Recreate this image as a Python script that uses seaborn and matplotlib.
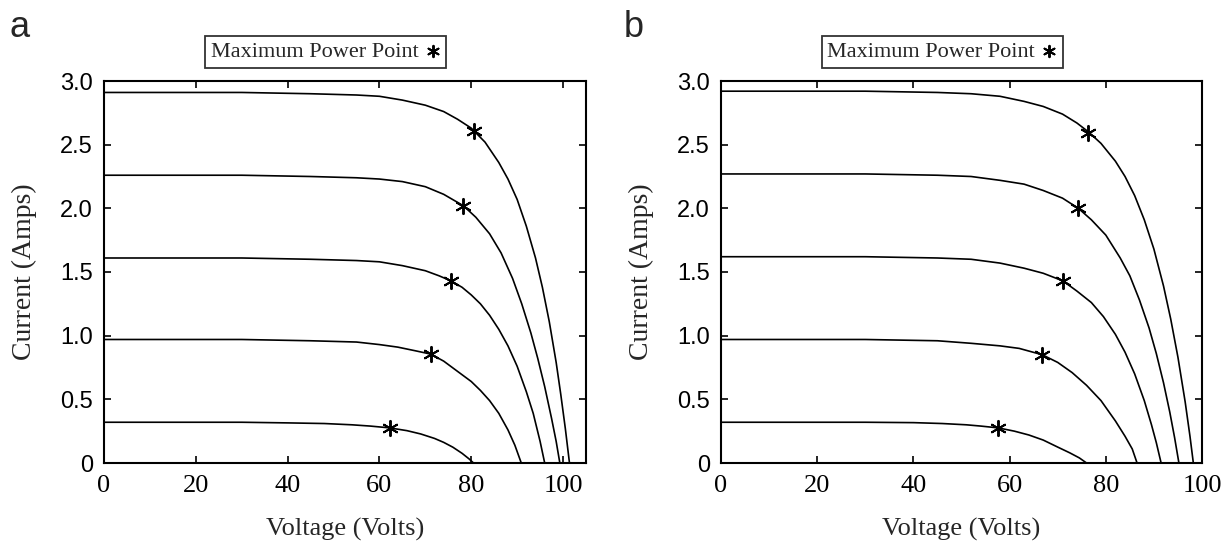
import numpy as np
import pandas as pd
import seaborn as sns
import matplotlib.pyplot as plt

# 图a：五条I-V曲线（电压 V, 电流 I）
a1_v = [0, 30, 45, 55, 60, 65, 70, 74, 77, 80, 83, 86, 88, 90, 92, 94, 95.5, 97, 98.5, 99.5, 100.5, 101.4]
a1_i = [2.91, 2.91, 2.90, 2.89, 2.88, 2.85, 2.81, 2.76, 2.70, 2.63, 2.52, 2.36, 2.23, 2.07, 1.86, 1.61, 1.38, 1.11, 0.79, 0.54, 0.27, 0]
a2_v = [0, 30, 45, 55, 60, 65, 70, 74, 78.3, 81, 84, 86.5, 89, 91, 93, 94.5, 96, 97.5, 98.5, 99.3]
a2_i = [2.26, 2.26, 2.25, 2.24, 2.23, 2.21, 2.17, 2.11, 2.02, 1.93, 1.80, 1.65, 1.45, 1.25, 1.02, 0.82, 0.60, 0.35, 0.17, 0]
a3_v = [0, 30, 45, 55, 60, 65, 70, 73, 75.6, 78, 80, 82, 84, 86, 88, 90, 92, 93.5, 95, 96]
a3_i = [1.61, 1.61, 1.60, 1.59, 1.58, 1.55, 1.51, 1.47, 1.43, 1.38, 1.32, 1.25, 1.16, 1.05, 0.92, 0.76, 0.56, 0.39, 0.17, 0]
a4_v = [0, 30, 45, 55, 60, 64, 68, 71.2, 74, 77, 80, 82, 84, 86, 88, 89.5, 90.9]
a4_i = [0.97, 0.97, 0.96, 0.95, 0.93, 0.91, 0.88, 0.855, 0.80, 0.72, 0.64, 0.57, 0.49, 0.39, 0.26, 0.14, 0]
a5_v = [0, 30, 40, 48, 54, 58, 62.2, 66, 69, 72, 74, 76, 78, 79.5, 80.5]
a5_i = [0.32, 0.32, 0.315, 0.31, 0.30, 0.29, 0.276, 0.254, 0.228, 0.193, 0.162, 0.124, 0.076, 0.033, 0]

# 图b：五条I-V曲线
b1_v = [0, 30, 45, 52, 58, 63, 67, 71, 74, 76.4, 79, 82, 84, 86, 88, 90, 92, 93.5, 95, 96.5, 97.5, 98.2]
b1_i = [2.92, 2.92, 2.91, 2.90, 2.88, 2.84, 2.80, 2.74, 2.67, 2.60, 2.51, 2.37, 2.25, 2.10, 1.91, 1.68, 1.39, 1.13, 0.83, 0.48, 0.21, 0]
b2_v = [0, 30, 45, 52, 58, 63, 67, 71, 74.3, 77, 80, 83, 85, 87, 89, 90.5, 92, 93.3, 94.3, 95.2]
b2_i = [2.27, 2.27, 2.26, 2.25, 2.22, 2.19, 2.14, 2.08, 2.00, 1.91, 1.79, 1.61, 1.47, 1.28, 1.06, 0.86, 0.63, 0.40, 0.20, 0]
b3_v = [0, 30, 45, 52, 58, 63, 67, 71.1, 74, 77, 79.5, 82, 84, 86, 88, 89.5, 90.5, 91.5]
b3_i = [1.62, 1.62, 1.61, 1.60, 1.57, 1.53, 1.49, 1.43, 1.35, 1.26, 1.15, 1.01, 0.87, 0.70, 0.49, 0.30, 0.16, 0]
b4_v = [0, 30, 45, 52, 58, 62, 66.8, 70, 73, 76, 79, 82, 84, 85.5, 86.5]
b4_i = [0.97, 0.97, 0.96, 0.94, 0.92, 0.90, 0.85, 0.79, 0.71, 0.61, 0.49, 0.33, 0.21, 0.11, 0]
b5_v = [0, 30, 40, 46, 51, 54, 57.6, 61, 64, 67, 70, 72.5, 74.5, 76]
b5_i = [0.32, 0.32, 0.317, 0.31, 0.30, 0.29, 0.276, 0.25, 0.22, 0.18, 0.125, 0.08, 0.04, 0]

# 最大功率点
mpp_a_v = [80.5, 78.3, 75.6, 71.2, 62.2]
mpp_a_i = [2.61, 2.02, 1.43, 0.855, 0.276]
mpp_b_v = [76.4, 74.3, 71.1, 66.8, 57.6]
mpp_b_i = [2.59, 2.00, 1.43, 0.85, 0.276]

x_ticks = [0, 20, 40, 60, 80, 100]
y_ticks = [0, 0.5, 1.0, 1.5, 2.0, 2.5, 3.0]
y_tick_labels = ['0', '0.5', '1.0', '1.5', '2.0', '2.5', '3.0']


def curves_df(curves):
    rows = []
    for k, (v, i) in enumerate(curves):
        rows.append(pd.DataFrame({'curve': k, 'V': v, 'I': i}))
    return pd.concat(rows, ignore_index=True)


df_a = curves_df([(a1_v, a1_i), (a2_v, a2_i), (a3_v, a3_i), (a4_v, a4_i), (a5_v, a5_i)])
df_b = curves_df([(b1_v, b1_i), (b2_v, b2_i), (b3_v, b3_i), (b4_v, b4_i), (b5_v, b5_i)])
mpp_a = pd.DataFrame({'V': mpp_a_v, 'I': mpp_a_i})
mpp_b = pd.DataFrame({'V': mpp_b_v, 'I': mpp_b_i})

sns.set_style("ticks")
plt.rcParams['font.family'] = ['Liberation Serif', 'DejaVu Serif']

W, H = 1223, 546
fig = plt.figure(figsize=(W / 100, H / 100), dpi=100)
ax_a = fig.add_axes([104 / W, 1 - 463 / H, 482 / W, 382 / H])
ax_b = fig.add_axes([721 / W, 1 - 463 / H, 481 / W, 382 / H])

for ax, df, mpp, xmax in [(ax_a, df_a, mpp_a, 105), (ax_b, df_b, mpp_b, 100)]:
    sns.lineplot(data=df, x='V', y='I', units='curve', estimator=None, sort=False,
                 color='black', lw=1.2, ax=ax)
    sns.scatterplot(data=mpp, x='V', y='I', marker=(6, 2, 0), s=120, color='black',
                    edgecolor='black', linewidth=1.4, label='Maximum Power Point',
                    zorder=5, ax=ax)
    ax.set_xlim(0, xmax)
    ax.set_ylim(0, 3.0)
    ax.set_xticks(x_ticks)
    ax.set_yticks(y_ticks)
    ax.set_yticklabels(y_tick_labels, fontfamily='Liberation Sans', fontsize=17)
    for lab in ax.get_xticklabels():
        lab.set_fontsize(19)
    ax.tick_params(direction='in', top=True, right=True, length=5, width=1.2,
                   colors='black', pad=9)
    ax.tick_params(axis='y', pad=8)
    for sp in ax.spines.values():
        sp.set_visible(True)
        sp.set_linewidth(1.5)
        sp.set_color('black')
    ax.set_xlabel('Voltage (Volts)', fontsize=19)
    ax.set_ylabel('Current (Amps)', fontsize=20)
    ax.xaxis.set_label_coords(0.5, -0.145)
    ax.yaxis.set_label_coords(-0.14, 0.5)
    leg = ax.legend(loc='lower center', bbox_to_anchor=(0.46, 1.035), markerfirst=False,
                    frameon=True, fancybox=False, edgecolor='black', handlelength=0.7,
                    handletextpad=0.3, borderpad=0.25, borderaxespad=0, fontsize=16,
                    markerscale=0.75)
    leg.get_frame().set_linewidth(1.3)

fig.text(20 / W, 1 - 37 / H, 'a', fontfamily='Liberation Sans', fontsize=26, ha='center', va='baseline')
fig.text(634 / W, 1 - 37 / H, 'b', fontfamily='Liberation Sans', fontsize=26, ha='center', va='baseline')

fig.savefig('out.png', dpi=100)
